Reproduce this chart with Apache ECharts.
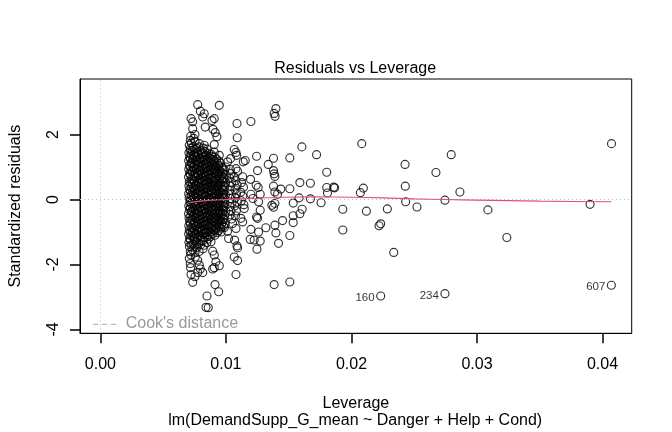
<!DOCTYPE html>
<html><head><meta charset="utf-8">
<script src="https://cdn.jsdelivr.net/npm/echarts@6/dist/echarts.min.js"></script>
<style>html,body{margin:0;padding:0;background:#fff}#c{width:672px;height:432px}</style>
</head><body><div id="c"></div>
<script>
// ---- tick labels ----
const xTicks = [0, 0.01, 0.02, 0.03, 0.04];
const yTicks = [-4, -2, 0, 2];

// ---- points: [leverage, standardized residual] ----
const colA = [[0.00735,2.18],[0.00716,1.82],[0.00708,1.67],[0.00716,1.57],[0.00705,1.44],[0.00711,1.31],[0.00703,1.19],[0.00709,1.05],[0.00704,0.93],[0.00710,0.80],[0.00702,0.69],[0.00708,0.55],[0.00705,0.42],[0.00711,0.31],[0.00703,0.18],[0.00707,0.06],[0.00712,-0.07],[0.00704,-0.19],[0.00709,-0.31],[0.00702,-0.44],[0.00706,-0.57],[0.00711,-0.68],[0.00704,-0.81],[0.00708,-0.94],[0.00703,-1.06],[0.00710,-1.19],[0.00705,-1.32],[0.00709,-1.45],[0.00716,-1.61],[0.00708,-1.82],[0.00716,-1.97],[0.00722,-2.31],[0.00735,-2.55]];
const colB = [[0.00722,2.49],[0.00735,2.39],[0.00753,2.00],[0.00743,1.88],[0.00738,1.62],[0.00731,1.50],[0.00742,1.37],[0.00735,1.25],[0.00729,1.12],[0.00740,0.99],[0.00733,0.87],[0.00744,0.74],[0.00736,0.61],[0.00730,0.49],[0.00741,0.37],[0.00734,0.24],[0.00739,0.12],[0.00731,-0.01],[0.00743,-0.13],[0.00736,-0.26],[0.00729,-0.38],[0.00740,-0.51],[0.00733,-0.63],[0.00745,-0.76],[0.00737,-0.88],[0.00731,-1.01],[0.00742,-1.14],[0.00748,-1.20],[0.00738,-1.36],[0.00735,-1.56],[0.00756,-1.77],[0.00753,-2.38]];
const colC = [[0.00775,2.92],[0.00788,1.72],[0.00766,1.58],[0.00772,1.46],[0.00763,1.33],[0.00770,1.20],[0.00777,1.08],[0.00765,0.95],[0.00771,0.82],[0.00762,0.70],[0.00774,0.57],[0.00768,0.45],[0.00761,0.32],[0.00773,0.20],[0.00766,0.07],[0.00770,-0.05],[0.00763,-0.18],[0.00776,-0.30],[0.00768,-0.43],[0.00762,-0.55],[0.00772,-0.68],[0.00765,-0.80],[0.00771,-0.93],[0.00764,-1.05],[0.00775,-1.18],[0.00767,-1.31],[0.00770,-1.48],[0.00775,-1.87],[0.00788,-2.02],[0.00775,-2.25]];
const colD = [[0.00796,2.72],[0.00815,2.54],[0.00798,1.52],[0.00804,1.40],[0.00795,1.27],[0.00802,1.14],[0.00809,1.02],[0.00797,0.89],[0.00803,0.76],[0.00794,0.64],[0.00806,0.51],[0.00800,0.39],[0.00793,0.26],[0.00805,0.14],[0.00798,0.01],[0.00802,-0.11],[0.00795,-0.24],[0.00808,-0.36],[0.00800,-0.49],[0.00794,-0.61],[0.00804,-0.74],[0.00797,-0.86],[0.00803,-0.99],[0.00796,-1.11],[0.00801,-1.25],[0.00799,-1.39],[0.00796,-2.14]];
const colE = [[0.00827,2.64],[0.00835,2.23],[0.00827,1.67],[0.00830,1.48],[0.00836,1.35],[0.00827,1.22],[0.00834,1.10],[0.00841,0.97],[0.00829,0.84],[0.00835,0.72],[0.00826,0.59],[0.00838,0.47],[0.00832,0.34],[0.00825,0.22],[0.00837,0.09],[0.00830,-0.03],[0.00834,-0.16],[0.00827,-0.28],[0.00840,-0.41],[0.00832,-0.53],[0.00826,-0.66],[0.00836,-0.78],[0.00829,-0.91],[0.00835,-1.03],[0.00828,-1.16],[0.00827,-1.41],[0.00815,-2.25]];
const colF = [[0.00862,1.42],[0.00869,1.29],[0.00858,1.16],[0.00866,1.04],[0.00872,0.91],[0.00860,0.78],[0.00867,0.66],[0.00858,0.53],[0.00870,0.41],[0.00864,0.28],[0.00857,0.16],[0.00869,0.03],[0.00862,-0.09],[0.00866,-0.22],[0.00859,-0.34],[0.00871,-0.47],[0.00863,-0.59],[0.00857,-0.72],[0.00868,-0.84],[0.00861,-0.97],[0.00867,-1.09],[0.00860,-1.22],[0.00849,-2.97],[0.00841,-3.32],[0.00859,-3.33]];
const colG = [[0.00889,2.43],[0.00897,2.16],[0.00907,1.69],[0.00907,1.46],[0.00893,1.33],[0.00900,1.20],[0.00891,1.07],[0.00898,0.95],[0.00904,0.82],[0.00892,0.69],[0.00899,0.57],[0.00890,0.44],[0.00902,0.32],[0.00896,0.19],[0.00889,0.07],[0.00901,-0.06],[0.00894,-0.18],[0.00898,-0.31],[0.00891,-0.43],[0.00903,-0.56],[0.00895,-0.68],[0.00889,-0.81],[0.00900,-0.93],[0.00893,-1.06],[0.00881,-1.30],[0.00894,-1.59],[0.00907,-1.71],[0.00907,-2.10],[0.00894,-2.14]];
const colH = [[0.00947,2.90],[0.00907,2.49],[0.00915,2.06],[0.00928,1.93],[0.00947,1.36],[0.00925,1.24],[0.00932,1.11],[0.00921,0.99],[0.00929,0.86],[0.00935,0.73],[0.00923,0.61],[0.00930,0.48],[0.00922,0.36],[0.00934,0.23],[0.00927,0.11],[0.00920,-0.02],[0.00932,-0.14],[0.00925,-0.27],[0.00930,-0.39],[0.00923,-0.52],[0.00935,-0.64],[0.00927,-0.77],[0.00921,-0.89],[0.00931,-1.02],[0.00920,-1.92],[0.00947,-2.04],[0.00913,-2.62],[0.00942,-2.84]];
const colI = [[0.00958,1.12],[0.00965,1.00],[0.00953,0.87],[0.00961,0.75],[0.00968,0.62],[0.00956,0.50],[0.00963,0.37],[0.00954,0.25],[0.00966,0.12],[0.00959,0.00],[0.00952,-0.13],[0.00964,-0.25],[0.00957,-0.38],[0.00961,-0.50],[0.00954,-0.63],[0.00967,-0.75],[0.00959,-0.88],[0.00962,-1.00]];
const colJ = [[0.01013,1.16],[0.01000,1.00],[0.00988,0.90],[0.00995,0.77],[0.00986,0.64],[0.00998,0.52],[0.00991,0.39],[0.00984,0.27],[0.00996,0.14],[0.00989,0.02],[0.00993,-0.11],[0.00986,-0.23],[0.00999,-0.36],[0.00990,-0.48],[0.00985,-0.61],[0.00995,-0.73],[0.00988,-0.86],[0.01013,-0.98],[0.01021,-1.20]];
const colK = [[0.01034,0.93],[0.01041,0.80],[0.01030,0.66],[0.01046,0.53],[0.01037,0.41],[0.01029,0.28],[0.01043,0.16],[0.01035,0.03],[0.01048,-0.10],[0.01031,-0.22],[0.01040,-0.35],[0.01033,-0.47],[0.01045,-0.60],[0.01053,-0.74],[0.01080,-0.89]];
const colL = [[0.01088,2.34],[0.01090,1.90],[0.01066,1.54],[0.01080,1.45],[0.01085,1.36],[0.01037,1.26],[0.01080,0.95],[0.01093,0.87],[0.01066,0.69],[0.01078,0.58],[0.01089,0.45],[0.01072,0.30],[0.01084,0.18],[0.01075,0.05],[0.01091,-0.08],[0.01070,-0.20],[0.01083,-0.35],[0.01076,-0.50],[0.01069,-1.25],[0.01088,-1.43],[0.01093,-1.49],[0.01066,-1.77],[0.01093,-1.88],[0.01080,-2.31]];
const colM = [[0.01138,1.16],[0.01154,1.20],[0.01133,0.70],[0.01125,0.52],[0.01140,0.38],[0.01118,0.22],[0.01134,0.10],[0.01122,-0.04],[0.01143,-0.16],[0.01146,-0.28],[0.01119,-0.58],[0.01133,-0.69]];
// extra points filling the dense core
const coreS1 = [[0.00719,1.95],[0.00724,1.74],[0.00717,1.51],[0.00722,1.38],[0.00716,1.26],[0.00723,1.13],[0.00718,1.00],[0.00721,0.88],[0.00716,0.76],[0.00724,0.63],[0.00719,0.50],[0.00722,0.37],[0.00717,0.25],[0.00723,0.12],[0.00718,0.00],[0.00721,-0.12],[0.00716,-0.25],[0.00724,-0.37],[0.00719,-0.50],[0.00722,-0.62],[0.00717,-0.75],[0.00723,-0.87],[0.00718,-1.00],[0.00721,-1.12],[0.00716,-1.25],[0.00723,-1.40],[0.00720,-1.70],[0.00718,-2.10]];
const coreS2 = [[0.00754,1.79],[0.00749,1.55],[0.00755,1.43],[0.00750,1.30],[0.00757,1.18],[0.00751,1.05],[0.00748,0.93],[0.00756,0.80],[0.00752,0.67],[0.00749,0.55],[0.00755,0.42],[0.00751,0.30],[0.00757,0.17],[0.00750,0.05],[0.00753,-0.08],[0.00748,-0.20],[0.00756,-0.33],[0.00751,-0.45],[0.00754,-0.58],[0.00749,-0.70],[0.00757,-0.83],[0.00752,-0.95],[0.00750,-1.08],[0.00755,-1.27],[0.00751,-1.45],[0.00754,-1.62]];
const coreS3 = [[0.00786,1.62],[0.00781,1.39],[0.00788,1.27],[0.00783,1.14],[0.00789,1.01],[0.00784,0.89],[0.00780,0.76],[0.00787,0.64],[0.00782,0.51],[0.00788,0.38],[0.00785,0.26],[0.00780,0.13],[0.00787,0.01],[0.00783,-0.12],[0.00789,-0.24],[0.00782,-0.37],[0.00786,-0.49],[0.00781,-0.62],[0.00788,-0.74],[0.00784,-0.87],[0.00780,-0.99],[0.00787,-1.12],[0.00783,-1.36],[0.00786,-1.60]];
const coreS4 = [[0.00818,1.58],[0.00813,1.44],[0.00820,1.31],[0.00815,1.19],[0.00821,1.06],[0.00816,0.94],[0.00812,0.81],[0.00819,0.68],[0.00814,0.56],[0.00820,0.43],[0.00817,0.31],[0.00812,0.18],[0.00819,0.06],[0.00815,-0.07],[0.00821,-0.19],[0.00814,-0.32],[0.00818,-0.44],[0.00813,-0.57],[0.00820,-0.70],[0.00816,-0.82],[0.00812,-0.95],[0.00819,-1.07],[0.00815,-1.27],[0.00818,-1.52]];
const coreS5 = [[0.00850,1.55],[0.00846,1.36],[0.00852,1.23],[0.00847,1.10],[0.00853,0.98],[0.00848,0.85],[0.00844,0.72],[0.00851,0.60],[0.00846,0.47],[0.00852,0.35],[0.00849,0.22],[0.00844,0.10],[0.00851,-0.03],[0.00847,-0.15],[0.00853,-0.28],[0.00846,-0.40],[0.00850,-0.53],[0.00845,-0.65],[0.00852,-0.78],[0.00848,-0.90],[0.00844,-1.03],[0.00851,-1.15],[0.00847,-1.33]];
const coreS6 = [[0.00882,1.39],[0.00878,1.26],[0.00884,1.13],[0.00879,1.01],[0.00885,0.88],[0.00880,0.76],[0.00876,0.63],[0.00883,0.50],[0.00878,0.38],[0.00884,0.25],[0.00881,0.13],[0.00876,0.00],[0.00883,-0.12],[0.00879,-0.25],[0.00885,-0.37],[0.00878,-0.50],[0.00882,-0.62],[0.00877,-0.75],[0.00884,-0.87],[0.00880,-1.00],[0.00876,-1.14]];
const coreS7 = [[0.00913,1.30],[0.00909,1.17],[0.00915,1.05],[0.00910,0.92],[0.00916,0.79],[0.00911,0.67],[0.00908,0.54],[0.00914,0.42],[0.00910,0.29],[0.00916,0.17],[0.00912,0.04],[0.00908,-0.08],[0.00915,-0.21],[0.00911,-0.33],[0.00917,-0.46],[0.00910,-0.58],[0.00914,-0.71],[0.00909,-0.83],[0.00915,-0.96],[0.00912,-1.10]];
const coreS8 = [[0.00945,1.18],[0.00941,1.05],[0.00947,0.92],[0.00942,0.80],[0.00948,0.67],[0.00943,0.55],[0.00940,0.42],[0.00946,0.30],[0.00942,0.17],[0.00948,0.05],[0.00944,-0.08],[0.00940,-0.20],[0.00947,-0.33],[0.00943,-0.45],[0.00949,-0.58],[0.00942,-0.70],[0.00946,-0.83],[0.00941,-0.96]];
const coreS9 = [[0.00977,0.95],[0.00973,0.81],[0.00979,0.68],[0.00974,0.56],[0.00980,0.43],[0.00975,0.31],[0.00972,0.18],[0.00978,0.06],[0.00974,-0.07],[0.00980,-0.19],[0.00976,-0.32],[0.00972,-0.44],[0.00979,-0.57],[0.00975,-0.69],[0.00981,-0.82]];
const midSpread = [[0.01199,2.40],[0.01244,1.33],[0.01252,0.89],[0.01196,0.62],[0.01241,0.44],[0.01257,0.37],[0.01199,0.16],[0.01273,0.16],[0.01215,0.03],[0.01260,-0.07],[0.01273,-0.33],[0.01244,-0.54],[0.01252,-0.58],[0.01199,-0.92],[0.01260,-1.00],[0.01193,-1.23],[0.01225,-1.25],[0.01273,-1.28],[0.01247,-1.53],[0.01337,1.08],[0.01379,1.27],[0.01379,0.89],[0.01384,0.79],[0.01390,0.71],[0.01379,0.41],[0.01437,0.32],[0.01390,0.23],[0.01411,0.16],[0.01366,-0.18],[0.01379,-0.24],[0.01390,-0.12],[0.01390,-0.79],[0.01398,-1.03],[0.01318,-0.87],[0.01419,-1.35],[0.01384,-2.62],[0.01398,2.80],[0.01384,2.65],[0.01392,2.56]];
const highLeverage = [[0.04072,1.72],[0.02082,1.72],[0.01605,1.62],[0.01509,1.28],[0.01722,1.38],[0.02795,1.38],[0.02427,1.08],[0.01803,0.84],[0.02673,0.83],[0.01509,0.33],[0.01589,0.52],[0.01673,0.50],[0.01803,0.37],[0.01809,0.20],[0.01858,0.38],[0.01866,0.36],[0.02095,0.35],[0.02071,0.21],[0.02429,0.41],[0.02864,0.23],[0.01583,0.05],[0.01673,0.02],[0.01536,-0.11],[0.01758,-0.10],[0.02432,-0.07],[0.02745,-0.02],[0.03901,-0.15],[0.01607,-0.30],[0.01589,-0.44],[0.01536,-0.50],[0.01536,-0.71],[0.01451,-0.65],[0.01931,-0.30],[0.02119,-0.36],[0.02286,-0.29],[0.02522,-0.23],[0.03087,-0.32],[0.01509,-1.11],[0.01931,-0.94],[0.02220,-0.81],[0.02233,-0.75],[0.02337,-1.63],[0.03238,-1.17],[0.01509,-2.54]];
// labelled observations
const idLeverage = [0.02233, 0.02745, 0.04071];
const idResid = [-2.97, -2.90, -2.64];
const idLabels = ['160', '234', '607'];
// lowess smooth (red)
const smoothLev = [0.00706,0.0080,0.0090,0.0100,0.0110,0.0125,0.0145,0.0170,0.0200,0.0225,0.0250,0.0275,0.0300,0.0350,0.0407];
const smoothRes = [-0.10,-0.05,-0.02,0.00,0.02,0.04,0.07,0.08,0.07,0.05,0.02,0.00,-0.02,-0.05,-0.07];

const FONT = "'Liberation Sans', Arial, Helvetica, sans-serif";
const pts = [].concat(colA,colB,colC,colD,colE,colF,colG,colH,colI,colJ,colK,colL,colM,
  coreS1,coreS2,coreS3,coreS4,coreS5,coreS6,coreS7,coreS8,coreS9,midSpread,highLeverage);
const idPts = idLeverage.map((x,i)=>({value:[x,idResid[i]], name:idLabels[i]}));

const chart = echarts.init(document.getElementById('c'));
const gL = 78.7, gR = 40.3, gT = 79, gB = 98.7;
const cx = gL + (672 - gL - gR)/2;
const SYM = 8, BW = 1.15;
chart.setOption({
  animation:false,
  textStyle:{fontFamily:FONT, fontSize:16, color:'#000'},
  grid:{left:gL, right:gR, top:gT, bottom:gB, show:true, borderColor:'#000', borderWidth:1},
  xAxis:{type:'value', min:-0.001628, max:0.042328,
    name:'Leverage', nameLocation:'middle', nameGap:62,
    nameTextStyle:{fontFamily:FONT, fontSize:16, color:'#000'},
    axisLine:{show:true, onZero:false, lineStyle:{color:'#000', width:1}}, splitLine:{show:false},
    axisTick:{show:true, length:10, customValues:xTicks, lineStyle:{color:'#000', width:1.5}},
    axisLabel:{customValues:xTicks, margin:23, fontFamily:FONT, fontSize:16, color:'#000', formatter:v=>v.toFixed(2)}},
  yAxis:{type:'value', min:-4.12, max:3.71,
    name:'Standardized residuals', nameLocation:'middle', nameRotate:90, nameGap:56,
    nameTextStyle:{fontFamily:FONT, fontSize:16, color:'#000'},
    axisLine:{show:true, onZero:false, lineStyle:{color:'#000', width:1}}, splitLine:{show:false},
    axisTick:{show:true, length:10, customValues:yTicks, lineStyle:{color:'#000', width:1.5}},
    axisLabel:{customValues:yTicks, rotate:90, margin:18, fontFamily:FONT, fontSize:16, color:'#000', formatter:v=>String(v)}},
  series:[
    {type:'scatter', data:pts, symbol:'circle', symbolSize:SYM, silent:true,
     itemStyle:{color:'rgba(0,0,0,0)', borderColor:'#000', borderWidth:BW},
     markLine:{silent:true, symbol:'none', label:{show:false},
       lineStyle:{color:'#bebebe', type:[1,3], width:1},
       data:[{xAxis:0},{yAxis:0}]}},
    {type:'scatter', data:idPts, symbol:'circle', symbolSize:SYM, silent:true,
     itemStyle:{color:'rgba(0,0,0,0)', borderColor:'#000', borderWidth:BW},
     label:{show:true, position:'left', distance:1.5, offset:[0,2], formatter:p=>p.name, fontFamily:FONT, fontSize:11.5, color:'#000'}},
    {type:'line', data:smoothLev.map((x,i)=>[x,smoothRes[i]]), showSymbol:false, smooth:0.3, silent:true, z:5,
     lineStyle:{color:'#DF536B', width:1.1}}
  ],
  graphic:[
    {type:'text', x:cx, y:68.4, style:{text:'Residuals vs Leverage', font:"16px "+FONT, fill:'#000', align:'center', verticalAlign:'middle'}},
    {type:'text', x:cx, y:420.5, style:{text:'lm(DemandSupp_G_mean ~ Danger + Help + Cond)', font:"16px "+FONT, fill:'#000', align:'center', verticalAlign:'middle'}},
    {type:'line', shape:{x1:93, y1:324.3, x2:120, y2:324.3}, style:{stroke:'#a8a8a8', lineWidth:1, lineDash:[5,4]}},
    {type:'text', x:125.7, y:324, style:{text:"Cook's distance", font:"16px "+FONT, fill:'#999999', align:'left', verticalAlign:'middle'}}
  ]
});
</script></body></html>
